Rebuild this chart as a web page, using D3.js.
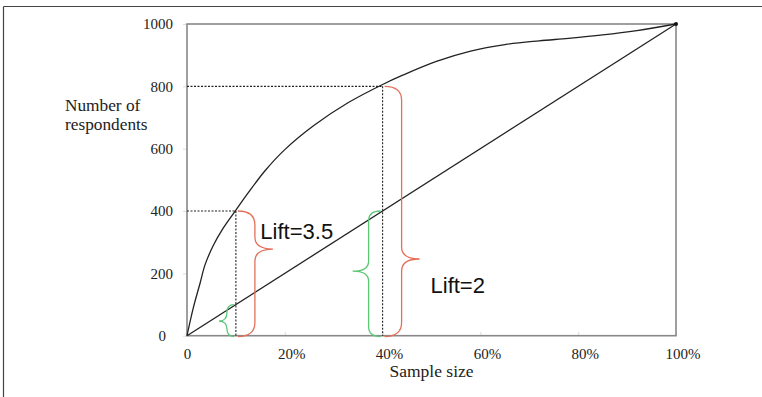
<!DOCTYPE html>
<html>
<head>
<meta charset="utf-8">
<script src="https://cdn.jsdelivr.net/npm/d3@7"></script>
<style>
  html, body { margin: 0; padding: 0; background: #fff; }
  svg { display: block; }
</style>
</head>
<body>
<svg id="chart" width="762" height="397"></svg>
<script>
// ---- data ----
const gainX = [0, 1.3, 2.7, 3.7, 5.4, 7.4, 10, 12.5, 16, 20, 26, 33, 40, 44, 51, 58, 65, 72, 78, 85, 92, 100];
const gainY = [0, 90, 170, 228, 290, 345, 403, 458, 530, 597, 675, 748, 806, 835, 880, 913, 934, 946, 954, 965, 979, 1000];
const baselineX = [0, 100];
const baselineY = [0, 1000];
const xTicks = [0, 20, 40, 60, 80, 100];
const yTicks = [0, 200, 400, 600, 800, 1000];
const guideX = [10, 40];          // sample size (%) of the two reference points
const guideY = [400, 800];        // respondents at those points
const braceX = [10, 10, 40, 40];
const braceFrom = [0, 0, 0, 0];
const braceTo = [100, 400, 400, 800];
const braceTip = [47, 278, 207, 246];
const braceKind = ["green", "red", "green", "red"];
const liftLabels = ["Lift=3.5", "Lift=2"];
const liftLabelX = [15, 49.8];
const liftLabelY = [311, 136];

// ---- layout ----
const svg = d3.select("#chart");
const x = d3.scaleLinear().domain([0, 100]).range([187, 676]);
const y = d3.scaleLinear().domain([0, 1000]).range([335.7, 24]);

// outer border (top + left)
svg.append("line").attr("x1", 3.5).attr("y1", 6.5).attr("x2", 762).attr("y2", 6.5)
  .attr("stroke", "#444").attr("stroke-width", 1.2);
svg.append("line").attr("x1", 3.5).attr("y1", 6.5).attr("x2", 3.5).attr("y2", 397)
  .attr("stroke", "#444").attr("stroke-width", 1.2);

const serif = "'Liberation Serif', 'Times New Roman', serif";

// axes
const yAxis = d3.axisLeft(y).tickValues(yTicks).tickSize(4).tickPadding(10).tickFormat(d3.format("d"));
const gy = svg.append("g").attr("transform", `translate(${x(0)},0)`).call(yAxis);
gy.select(".domain").remove();
gy.selectAll(".tick line").attr("stroke", "#ddd");
gy.selectAll(".tick text")
  .attr("font-family", serif)
  .attr("font-size", 15).attr("fill", "#222")
  .attr("dx", d => d === 0 ? -7 : 0);

const xAxis = d3.axisBottom(x).tickValues(xTicks).tickSize(4).tickPadding(8.5)
  .tickFormat(d => d === 0 ? "0" : d + "%");
const gx = svg.append("g").attr("transform", `translate(0,${y(0)})`).call(xAxis);
gx.select(".domain").remove();
gx.selectAll(".tick line").attr("stroke", "#ddd").attr("y2", -4);
gx.selectAll(".tick text")
  .attr("font-family", serif)
  .attr("font-size", 15).attr("fill", "#222")
  .attr("dx", d => d === 0 ? 0 : 6.5);

// frame
svg.append("rect")
  .attr("x", x(0)).attr("y", y(1000))
  .attr("width", x(100) - x(0)).attr("height", y(0) - y(1000))
  .attr("fill", "none").attr("stroke", "#888").attr("stroke-width", 1.6);

// axis titles
svg.append("text").attr("font-family", serif).attr("font-size", 17.3).attr("fill", "#222")
  .attr("x", 65).attr("y", 111).text("Number of");
svg.append("text").attr("font-family", serif).attr("font-size", 17.3).attr("fill", "#222")
  .attr("x", 65).attr("y", 129.5).text("respondents");
svg.append("text").attr("font-family", serif).attr("font-size", 17.5).attr("fill", "#222")
  .attr("x", (x(0) + x(100)) / 2).attr("y", 377).attr("text-anchor", "middle").text("Sample size");

// guides (dotted)
guideX.forEach((gxv, i) => {
  const gyv = guideY[i];
  svg.append("line").attr("x1", x(0)).attr("x2", x(gxv)).attr("y1", y(gyv)).attr("y2", y(gyv))
    .attr("stroke", "#222").attr("stroke-width", 1.1).attr("stroke-dasharray", "2,1.5");
  svg.append("line").attr("x1", x(gxv)).attr("x2", x(gxv)).attr("y1", y(gyv)).attr("y2", y(0))
    .attr("stroke", "#222").attr("stroke-width", 1.1).attr("stroke-dasharray", "2,1.5");
});

// lines
svg.append("path")
  .datum(baselineX.map((v, i) => [v, baselineY[i]]))
  .attr("d", d3.line().x(d => x(d[0])).y(d => y(d[1])))
  .attr("fill", "none").attr("stroke", "#222").attr("stroke-width", 1.3);
svg.append("path")
  .datum(gainX.map((v, i) => [v, gainY[i]]))
  .attr("d", d3.line().x(d => x(d[0])).y(d => y(d[1])).curve(d3.curveCatmullRom.alpha(0.5)))
  .attr("fill", "none").attr("stroke", "#222").attr("stroke-width", 1.3);
svg.append("circle").attr("cx", x(100)).attr("cy", y(1000)).attr("r", 2).attr("fill", "#111");

// braces
const braceStyle = {
  red:   { color: "#e5705a", dir: 1,  gap: 2,  w: 17, tip: 18, r: 14, r2: 12 },
  green: { color: "#5cc777", dir: -1, gap: 2,  w: 12, tip: 16, r: 10, r2: 10 }
};
function bracePath(xb, yTop, yBot, yTip, s) {
  const d = s.dir;
  const x0 = xb + d * s.gap;
  let w = s.w, tw = s.tip;
  const h = yBot - yTop;
  let r = Math.min(s.r, h / 4), r2 = Math.min(s.r2, h / 4);
  if (h < 40) { w = 7; tw = 8; }
  const xv = x0 + d * w, xt = xv + d * tw;
  return `M${x0},${yTop} Q${xv},${yTop} ${xv},${yTop + r}` +
         ` L${xv},${yTip - r2} Q${xv},${yTip} ${xt},${yTip}` +
         ` Q${xv},${yTip} ${xv},${yTip + r2}` +
         ` L${xv},${yBot - r} Q${xv},${yBot} ${x0},${yBot}`;
}
braceX.forEach((bx, i) => {
  const s = braceStyle[braceKind[i]];
  svg.append("path")
    .attr("d", bracePath(x(bx), y(braceTo[i]), y(braceFrom[i]) + 0.8, y(braceTip[i]), s))
    .attr("fill", "none").attr("stroke", s.color).attr("stroke-width", 1.3);
});

// lift labels
liftLabels.forEach((t, i) => {
  svg.append("text")
    .attr("x", x(liftLabelX[i])).attr("y", y(liftLabelY[i]))
    .attr("font-family", "'Liberation Sans', Arial, sans-serif")
    .attr("font-size", 22).attr("fill", "#111").text(t);
});
</script>
</body>
</html>
